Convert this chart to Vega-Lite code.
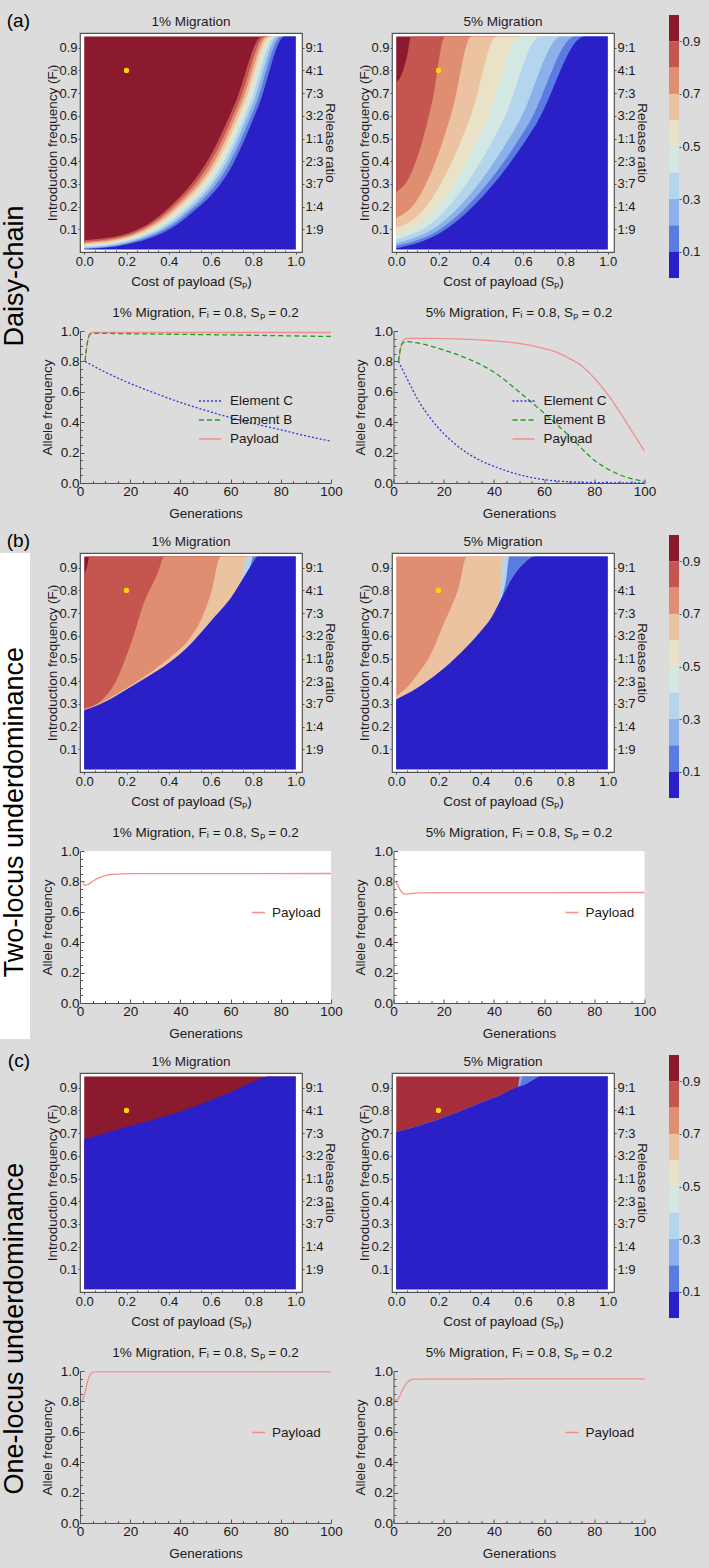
{
"$schema":"https://vega.github.io/schema/vega-lite/v6.json",
"padding":{"left":0,"top":12,"right":24,"bottom":12},
"background":"#dcdcdc",
"config":{"font":"Liberation Sans","view":{"stroke":null},
"axis":{"labelFont":"Liberation Sans","titleFont":"Liberation Sans","labelColor":"#1a1a1a","titleColor":"#1a1a1a","titleFontWeight":"normal","domainColor":"#555","tickColor":"#555","grid":false,"labelFlush":false,"labelOverlap":false},
"title":{"font":"Liberation Sans","fontWeight":"normal","color":"#1a1a1a"},
"legend":{"labelFont":"Liberation Sans"},"text":{"font":"Liberation Sans"}},
"datasets":{
"dot":[{"x":0.2,"y":0.8}],
"bands":[{"t":1,"lo":0.9,"hi":1},{"t":0.9,"lo":0.8,"hi":0.9},{"t":0.8,"lo":0.7,"hi":0.8},{"t":0.7,"lo":0.6,"hi":0.7},{"t":0.6,"lo":0.5,"hi":0.6},{"t":0.5,"lo":0.4,"hi":0.5},{"t":0.4,"lo":0.3,"hi":0.4},{"t":0.3,"lo":0.2,"hi":0.3},{"t":0.2,"lo":0.1,"hi":0.2},{"t":0.1,"lo":0,"hi":0.1}],
"heat":[
{"p":"a1","t":1,"x":0,"y":0.95},{"p":"a1","t":1,"x":1,"y":0.95},
{"p":"a1","t":0.9,"x":0,"y":0.052},{"p":"a1","t":0.9,"x":0.2,"y":0.08},{"p":"a1","t":0.9,"x":0.4,"y":0.195},{"p":"a1","t":0.9,"x":0.6,"y":0.43},{"p":"a1","t":0.9,"x":0.72,"y":0.67},{"p":"a1","t":0.9,"x":0.84,"y":0.95},{"p":"a1","t":0.9,"x":1,"y":0.95},
{"p":"a1","t":0.8,"x":0,"y":0.045},{"p":"a1","t":0.8,"x":0.2,"y":0.073},{"p":"a1","t":0.8,"x":0.41,"y":0.19},{"p":"a1","t":0.8,"x":0.615,"y":0.425},{"p":"a1","t":0.8,"x":0.735,"y":0.668},{"p":"a1","t":0.8,"x":0.855,"y":0.95},{"p":"a1","t":0.8,"x":1,"y":0.95},
{"p":"a1","t":0.7,"x":0,"y":0.039},{"p":"a1","t":0.7,"x":0.2,"y":0.066},{"p":"a1","t":0.7,"x":0.42,"y":0.185},{"p":"a1","t":0.7,"x":0.628,"y":0.42},{"p":"a1","t":0.7,"x":0.748,"y":0.665},{"p":"a1","t":0.7,"x":0.868,"y":0.95},{"p":"a1","t":0.7,"x":1,"y":0.95},
{"p":"a1","t":0.6,"x":0,"y":0.033},{"p":"a1","t":0.6,"x":0.2,"y":0.06},{"p":"a1","t":0.6,"x":0.43,"y":0.18},{"p":"a1","t":0.6,"x":0.64,"y":0.415},{"p":"a1","t":0.6,"x":0.76,"y":0.662},{"p":"a1","t":0.6,"x":0.88,"y":0.95},{"p":"a1","t":0.6,"x":1,"y":0.95},
{"p":"a1","t":0.5,"x":0,"y":0.028},{"p":"a1","t":0.5,"x":0.2,"y":0.054},{"p":"a1","t":0.5,"x":0.44,"y":0.175},{"p":"a1","t":0.5,"x":0.652,"y":0.41},{"p":"a1","t":0.5,"x":0.772,"y":0.66},{"p":"a1","t":0.5,"x":0.893,"y":0.95},{"p":"a1","t":0.5,"x":1,"y":0.95},
{"p":"a1","t":0.4,"x":0,"y":0.023},{"p":"a1","t":0.4,"x":0.2,"y":0.048},{"p":"a1","t":0.4,"x":0.45,"y":0.168},{"p":"a1","t":0.4,"x":0.664,"y":0.405},{"p":"a1","t":0.4,"x":0.785,"y":0.658},{"p":"a1","t":0.4,"x":0.905,"y":0.95},{"p":"a1","t":0.4,"x":1,"y":0.95},
{"p":"a1","t":0.3,"x":0,"y":0.019},{"p":"a1","t":0.3,"x":0.2,"y":0.043},{"p":"a1","t":0.3,"x":0.46,"y":0.162},{"p":"a1","t":0.3,"x":0.676,"y":0.4},{"p":"a1","t":0.3,"x":0.798,"y":0.655},{"p":"a1","t":0.3,"x":0.918,"y":0.95},{"p":"a1","t":0.3,"x":1,"y":0.95},
{"p":"a1","t":0.2,"x":0,"y":0.015},{"p":"a1","t":0.2,"x":0.2,"y":0.038},{"p":"a1","t":0.2,"x":0.47,"y":0.156},{"p":"a1","t":0.2,"x":0.69,"y":0.395},{"p":"a1","t":0.2,"x":0.812,"y":0.652},{"p":"a1","t":0.2,"x":0.932,"y":0.95},{"p":"a1","t":0.2,"x":1,"y":0.95},
{"p":"a1","t":0.1,"x":0,"y":0.0125},{"p":"a1","t":0.1,"x":0.2,"y":0.033},{"p":"a1","t":0.1,"x":0.48,"y":0.15},{"p":"a1","t":0.1,"x":0.705,"y":0.39},{"p":"a1","t":0.1,"x":0.827,"y":0.65},{"p":"a1","t":0.1,"x":0.948,"y":0.95},{"p":"a1","t":0.1,"x":1,"y":0.95},
{"p":"a2","t":1,"x":0,"y":0.95},{"p":"a2","t":1,"x":1,"y":0.95},
{"p":"a2","t":0.9,"x":0,"y":0.75},{"p":"a2","t":0.9,"x":0.0175,"y":0.767},{"p":"a2","t":0.9,"x":0.035,"y":0.807},{"p":"a2","t":0.9,"x":0.0525,"y":0.869},{"p":"a2","t":0.9,"x":0.07,"y":0.95},{"p":"a2","t":0.9,"x":1,"y":0.95},
{"p":"a2","t":0.8,"x":0,"y":0.265},{"p":"a2","t":0.8,"x":0.0575,"y":0.322},{"p":"a2","t":0.8,"x":0.115,"y":0.462},{"p":"a2","t":0.8,"x":0.1725,"y":0.673},{"p":"a2","t":0.8,"x":0.23,"y":0.95},{"p":"a2","t":0.8,"x":1,"y":0.95},
{"p":"a2","t":0.7,"x":0,"y":0.15},{"p":"a2","t":0.7,"x":0.089,"y":0.216},{"p":"a2","t":0.7,"x":0.178,"y":0.38},{"p":"a2","t":0.7,"x":0.266,"y":0.627},{"p":"a2","t":0.7,"x":0.355,"y":0.95},{"p":"a2","t":0.7,"x":1,"y":0.95},
{"p":"a2","t":0.6,"x":0,"y":0.105},{"p":"a2","t":0.6,"x":0.119,"y":0.175},{"p":"a2","t":0.6,"x":0.238,"y":0.348},{"p":"a2","t":0.6,"x":0.356,"y":0.609},{"p":"a2","t":0.6,"x":0.475,"y":0.95},{"p":"a2","t":0.6,"x":1,"y":0.95},
{"p":"a2","t":0.5,"x":0,"y":0.075},{"p":"a2","t":0.5,"x":0.145,"y":0.147},{"p":"a2","t":0.5,"x":0.29,"y":0.326},{"p":"a2","t":0.5,"x":0.435,"y":0.597},{"p":"a2","t":0.5,"x":0.58,"y":0.95},{"p":"a2","t":0.5,"x":1,"y":0.95},
{"p":"a2","t":0.4,"x":0,"y":0.055},{"p":"a2","t":0.4,"x":0.17,"y":0.129},{"p":"a2","t":0.4,"x":0.34,"y":0.312},{"p":"a2","t":0.4,"x":0.51,"y":0.588},{"p":"a2","t":0.4,"x":0.68,"y":0.95},{"p":"a2","t":0.4,"x":1,"y":0.95},
{"p":"a2","t":0.3,"x":0,"y":0.04},{"p":"a2","t":0.3,"x":0.195,"y":0.115},{"p":"a2","t":0.3,"x":0.39,"y":0.301},{"p":"a2","t":0.3,"x":0.585,"y":0.582},{"p":"a2","t":0.3,"x":0.78,"y":0.95},{"p":"a2","t":0.3,"x":1,"y":0.95},
{"p":"a2","t":0.2,"x":0,"y":0.027},{"p":"a2","t":0.2,"x":0.211,"y":0.103},{"p":"a2","t":0.2,"x":0.4225,"y":0.292},{"p":"a2","t":0.2,"x":0.634,"y":0.577},{"p":"a2","t":0.2,"x":0.845,"y":0.95},{"p":"a2","t":0.2,"x":1,"y":0.95},
{"p":"a2","t":0.1,"x":0,"y":0.015},{"p":"a2","t":0.1,"x":0.2225,"y":0.092},{"p":"a2","t":0.1,"x":0.445,"y":0.283},{"p":"a2","t":0.1,"x":0.6675,"y":0.572},{"p":"a2","t":0.1,"x":0.89,"y":0.95},{"p":"a2","t":0.1,"x":1,"y":0.95},
{"p":"b1","t":1,"x":0,"y":0.95},{"p":"b1","t":1,"x":1,"y":0.95},
{"p":"b1","t":0.9,"x":0,"y":0.87},{"p":"b1","t":0.9,"x":0.012,"y":0.9},{"p":"b1","t":0.9,"x":0.025,"y":0.95},{"p":"b1","t":0.9,"x":1,"y":0.95},
{"p":"b1","t":0.8,"x":0,"y":0.28},{"p":"b1","t":0.8,"x":0.05,"y":0.295},{"p":"b1","t":0.8,"x":0.094,"y":0.327},{"p":"b1","t":0.8,"x":0.15,"y":0.4},{"p":"b1","t":0.8,"x":0.195,"y":0.5},{"p":"b1","t":0.8,"x":0.24,"y":0.62},{"p":"b1","t":0.8,"x":0.28,"y":0.74},{"p":"b1","t":0.8,"x":0.345,"y":0.87},{"p":"b1","t":0.8,"x":0.38,"y":0.95},{"p":"b1","t":0.8,"x":1,"y":0.95},
{"p":"b1","t":0.7,"x":0,"y":0.272},{"p":"b1","t":0.7,"x":0.1,"y":0.315},{"p":"b1","t":0.7,"x":0.2,"y":0.37},{"p":"b1","t":0.7,"x":0.3,"y":0.43},{"p":"b1","t":0.7,"x":0.4,"y":0.5},{"p":"b1","t":0.7,"x":0.5,"y":0.59},{"p":"b1","t":0.7,"x":0.55,"y":0.665},{"p":"b1","t":0.7,"x":0.6,"y":0.79},{"p":"b1","t":0.7,"x":0.646,"y":0.95},{"p":"b1","t":0.7,"x":1,"y":0.95},
{"p":"b1","t":0.4,"x":0,"y":0.272},{"p":"b1","t":0.4,"x":0.1,"y":0.31},{"p":"b1","t":0.4,"x":0.2,"y":0.364},{"p":"b1","t":0.4,"x":0.3,"y":0.42},{"p":"b1","t":0.4,"x":0.4,"y":0.48},{"p":"b1","t":0.4,"x":0.5,"y":0.56},{"p":"b1","t":0.4,"x":0.6,"y":0.665},{"p":"b1","t":0.4,"x":0.7,"y":0.775},{"p":"b1","t":0.4,"x":0.74,"y":0.835},{"p":"b1","t":0.4,"x":0.755,"y":0.9},{"p":"b1","t":0.4,"x":0.768,"y":0.95},{"p":"b1","t":0.4,"x":1,"y":0.95},
{"p":"b1","t":0.2,"x":0,"y":0.272},{"p":"b1","t":0.2,"x":0.1,"y":0.31},{"p":"b1","t":0.2,"x":0.2,"y":0.364},{"p":"b1","t":0.2,"x":0.3,"y":0.42},{"p":"b1","t":0.2,"x":0.4,"y":0.48},{"p":"b1","t":0.2,"x":0.5,"y":0.56},{"p":"b1","t":0.2,"x":0.6,"y":0.665},{"p":"b1","t":0.2,"x":0.7,"y":0.775},{"p":"b1","t":0.2,"x":0.75,"y":0.85},{"p":"b1","t":0.2,"x":0.785,"y":0.905},{"p":"b1","t":0.2,"x":0.8,"y":0.95},{"p":"b1","t":0.2,"x":1,"y":0.95},
{"p":"b1","t":0.1,"x":0,"y":0.272},{"p":"b1","t":0.1,"x":0.1,"y":0.31},{"p":"b1","t":0.1,"x":0.2,"y":0.364},{"p":"b1","t":0.1,"x":0.3,"y":0.42},{"p":"b1","t":0.1,"x":0.4,"y":0.48},{"p":"b1","t":0.1,"x":0.5,"y":0.56},{"p":"b1","t":0.1,"x":0.6,"y":0.665},{"p":"b1","t":0.1,"x":0.7,"y":0.775},{"p":"b1","t":0.1,"x":0.75,"y":0.85},{"p":"b1","t":0.1,"x":0.8,"y":0.925},{"p":"b1","t":0.1,"x":0.82,"y":0.95},{"p":"b1","t":0.1,"x":1,"y":0.95},
{"p":"b2","t":0.8,"x":0,"y":0.95},{"p":"b2","t":0.8,"x":1,"y":0.95},
{"p":"b2","t":0.7,"x":0,"y":0.33},{"p":"b2","t":0.7,"x":0.01,"y":0.34},{"p":"b2","t":0.7,"x":0.05,"y":0.372},{"p":"b2","t":0.7,"x":0.1,"y":0.43},{"p":"b2","t":0.7,"x":0.153,"y":0.5},{"p":"b2","t":0.7,"x":0.23,"y":0.665},{"p":"b2","t":0.7,"x":0.295,"y":0.812},{"p":"b2","t":0.7,"x":0.334,"y":0.95},{"p":"b2","t":0.7,"x":1,"y":0.95},
{"p":"b2","t":0.4,"x":0,"y":0.32},{"p":"b2","t":0.4,"x":0.1,"y":0.37},{"p":"b2","t":0.4,"x":0.2,"y":0.437},{"p":"b2","t":0.4,"x":0.3,"y":0.52},{"p":"b2","t":0.4,"x":0.4,"y":0.62},{"p":"b2","t":0.4,"x":0.45,"y":0.68},{"p":"b2","t":0.4,"x":0.48,"y":0.735},{"p":"b2","t":0.4,"x":0.495,"y":0.82},{"p":"b2","t":0.4,"x":0.507,"y":0.95},{"p":"b2","t":0.4,"x":1,"y":0.95},
{"p":"b2","t":0.2,"x":0,"y":0.32},{"p":"b2","t":0.2,"x":0.1,"y":0.37},{"p":"b2","t":0.2,"x":0.2,"y":0.437},{"p":"b2","t":0.2,"x":0.3,"y":0.52},{"p":"b2","t":0.2,"x":0.4,"y":0.62},{"p":"b2","t":0.2,"x":0.45,"y":0.68},{"p":"b2","t":0.2,"x":0.5,"y":0.77},{"p":"b2","t":0.2,"x":0.52,"y":0.85},{"p":"b2","t":0.2,"x":0.535,"y":0.95},{"p":"b2","t":0.2,"x":1,"y":0.95},
{"p":"b2","t":0.1,"x":0,"y":0.32},{"p":"b2","t":0.1,"x":0.1,"y":0.37},{"p":"b2","t":0.1,"x":0.2,"y":0.437},{"p":"b2","t":0.1,"x":0.3,"y":0.52},{"p":"b2","t":0.1,"x":0.4,"y":0.62},{"p":"b2","t":0.1,"x":0.45,"y":0.68},{"p":"b2","t":0.1,"x":0.5,"y":0.77},{"p":"b2","t":0.1,"x":0.55,"y":0.856},{"p":"b2","t":0.1,"x":0.6,"y":0.915},{"p":"b2","t":0.1,"x":0.655,"y":0.95},{"p":"b2","t":0.1,"x":1,"y":0.95},
{"p":"c1","t":1,"x":0,"y":0.95},{"p":"c1","t":1,"x":1,"y":0.95},
{"p":"c1","t":0.1,"x":0,"y":0.674},{"p":"c1","t":0.1,"x":0.1,"y":0.7},{"p":"c1","t":0.1,"x":0.2,"y":0.728},{"p":"c1","t":0.1,"x":0.3,"y":0.752},{"p":"c1","t":0.1,"x":0.4,"y":0.78},{"p":"c1","t":0.1,"x":0.5,"y":0.81},{"p":"c1","t":0.1,"x":0.6,"y":0.846},{"p":"c1","t":0.1,"x":0.7,"y":0.883},{"p":"c1","t":0.1,"x":0.8,"y":0.926},{"p":"c1","t":0.1,"x":0.87,"y":0.95},{"p":"c1","t":0.1,"x":1,"y":0.95},
{"p":"c2","t":0.95,"x":0,"y":0.95},{"p":"c2","t":0.95,"x":1,"y":0.95},
{"p":"c2","t":0.3,"x":0,"y":0.705},{"p":"c2","t":0.3,"x":0.1,"y":0.73},{"p":"c2","t":0.3,"x":0.2,"y":0.76},{"p":"c2","t":0.3,"x":0.3,"y":0.795},{"p":"c2","t":0.3,"x":0.4,"y":0.834},{"p":"c2","t":0.3,"x":0.5,"y":0.87},{"p":"c2","t":0.3,"x":0.575,"y":0.903},{"p":"c2","t":0.3,"x":0.585,"y":0.95},{"p":"c2","t":0.3,"x":1,"y":0.95},
{"p":"c2","t":0.2,"x":0,"y":0.705},{"p":"c2","t":0.2,"x":0.1,"y":0.73},{"p":"c2","t":0.2,"x":0.2,"y":0.76},{"p":"c2","t":0.2,"x":0.3,"y":0.795},{"p":"c2","t":0.2,"x":0.4,"y":0.834},{"p":"c2","t":0.2,"x":0.5,"y":0.87},{"p":"c2","t":0.2,"x":0.575,"y":0.903},{"p":"c2","t":0.2,"x":0.585,"y":0.91},{"p":"c2","t":0.2,"x":0.6,"y":0.95},{"p":"c2","t":0.2,"x":1,"y":0.95},
{"p":"c2","t":0.1,"x":0,"y":0.705},{"p":"c2","t":0.1,"x":0.1,"y":0.73},{"p":"c2","t":0.1,"x":0.2,"y":0.76},{"p":"c2","t":0.1,"x":0.3,"y":0.795},{"p":"c2","t":0.1,"x":0.4,"y":0.834},{"p":"c2","t":0.1,"x":0.5,"y":0.87},{"p":"c2","t":0.1,"x":0.575,"y":0.903},{"p":"c2","t":0.1,"x":0.6,"y":0.91},{"p":"c2","t":0.1,"x":0.64,"y":0.93},{"p":"c2","t":0.1,"x":0.68,"y":0.95},{"p":"c2","t":0.1,"x":1,"y":0.95}
],
"lines":[
{"p":"a1","s":"Payload","g":2,"v":0.8},{"p":"a1","s":"Payload","g":3,"v":0.93},{"p":"a1","s":"Payload","g":4,"v":0.983},{"p":"a1","s":"Payload","g":5,"v":0.99},{"p":"a1","s":"Payload","g":10,"v":0.99},{"p":"a1","s":"Payload","g":100,"v":0.99},
{"p":"a1","s":"Element B","g":2,"v":0.8},{"p":"a1","s":"Element B","g":3,"v":0.93},{"p":"a1","s":"Element B","g":4,"v":0.978},{"p":"a1","s":"Element B","g":5,"v":0.984},{"p":"a1","s":"Element B","g":10,"v":0.984},{"p":"a1","s":"Element B","g":20,"v":0.982},{"p":"a1","s":"Element B","g":40,"v":0.978},{"p":"a1","s":"Element B","g":60,"v":0.974},{"p":"a1","s":"Element B","g":80,"v":0.969},{"p":"a1","s":"Element B","g":100,"v":0.964},
{"p":"a1","s":"Element C","g":2,"v":0.8},{"p":"a1","s":"Element C","g":10,"v":0.73},{"p":"a1","s":"Element C","g":20,"v":0.655},{"p":"a1","s":"Element C","g":30,"v":0.59},{"p":"a1","s":"Element C","g":40,"v":0.53},{"p":"a1","s":"Element C","g":50,"v":0.478},{"p":"a1","s":"Element C","g":60,"v":0.43},{"p":"a1","s":"Element C","g":70,"v":0.388},{"p":"a1","s":"Element C","g":80,"v":0.35},{"p":"a1","s":"Element C","g":90,"v":0.31},{"p":"a1","s":"Element C","g":100,"v":0.275},
{"p":"a2","s":"Payload","g":2,"v":0.8},{"p":"a2","s":"Payload","g":3,"v":0.9},{"p":"a2","s":"Payload","g":4,"v":0.94},{"p":"a2","s":"Payload","g":5,"v":0.95},{"p":"a2","s":"Payload","g":10,"v":0.952},{"p":"a2","s":"Payload","g":20,"v":0.95},{"p":"a2","s":"Payload","g":30,"v":0.945},{"p":"a2","s":"Payload","g":40,"v":0.935},{"p":"a2","s":"Payload","g":50,"v":0.918},{"p":"a2","s":"Payload","g":60,"v":0.885},{"p":"a2","s":"Payload","g":65,"v":0.86},{"p":"a2","s":"Payload","g":70,"v":0.82},{"p":"a2","s":"Payload","g":75,"v":0.77},{"p":"a2","s":"Payload","g":80,"v":0.69},{"p":"a2","s":"Payload","g":85,"v":0.59},{"p":"a2","s":"Payload","g":90,"v":0.47},{"p":"a2","s":"Payload","g":95,"v":0.34},{"p":"a2","s":"Payload","g":100,"v":0.21},
{"p":"a2","s":"Element B","g":2,"v":0.8},{"p":"a2","s":"Element B","g":3,"v":0.9},{"p":"a2","s":"Element B","g":4,"v":0.925},{"p":"a2","s":"Element B","g":5,"v":0.93},{"p":"a2","s":"Element B","g":10,"v":0.92},{"p":"a2","s":"Element B","g":20,"v":0.875},{"p":"a2","s":"Element B","g":30,"v":0.815},{"p":"a2","s":"Element B","g":40,"v":0.73},{"p":"a2","s":"Element B","g":50,"v":0.6},{"p":"a2","s":"Element B","g":60,"v":0.46},{"p":"a2","s":"Element B","g":70,"v":0.31},{"p":"a2","s":"Element B","g":80,"v":0.15},{"p":"a2","s":"Element B","g":90,"v":0.055},{"p":"a2","s":"Element B","g":100,"v":0.01},
{"p":"a2","s":"Element C","g":2,"v":0.8},{"p":"a2","s":"Element C","g":5,"v":0.7},{"p":"a2","s":"Element C","g":10,"v":0.54},{"p":"a2","s":"Element C","g":15,"v":0.42},{"p":"a2","s":"Element C","g":20,"v":0.325},{"p":"a2","s":"Element C","g":25,"v":0.25},{"p":"a2","s":"Element C","g":30,"v":0.19},{"p":"a2","s":"Element C","g":35,"v":0.145},{"p":"a2","s":"Element C","g":40,"v":0.11},{"p":"a2","s":"Element C","g":50,"v":0.055},{"p":"a2","s":"Element C","g":60,"v":0.022},{"p":"a2","s":"Element C","g":70,"v":0.008},{"p":"a2","s":"Element C","g":80,"v":0.003},{"p":"a2","s":"Element C","g":100,"v":0},
{"p":"b1","s":"Payload","g":1,"v":0.8},{"p":"b1","s":"Payload","g":2,"v":0.775},{"p":"b1","s":"Payload","g":3,"v":0.778},{"p":"b1","s":"Payload","g":5,"v":0.8},{"p":"b1","s":"Payload","g":7,"v":0.82},{"p":"b1","s":"Payload","g":10,"v":0.838},{"p":"b1","s":"Payload","g":15,"v":0.848},{"p":"b1","s":"Payload","g":20,"v":0.851},{"p":"b1","s":"Payload","g":100,"v":0.852},
{"p":"b2","s":"Payload","g":0.5,"v":0.805},{"p":"b2","s":"Payload","g":2,"v":0.765},{"p":"b2","s":"Payload","g":3,"v":0.735},{"p":"b2","s":"Payload","g":4,"v":0.72},{"p":"b2","s":"Payload","g":5,"v":0.716},{"p":"b2","s":"Payload","g":7,"v":0.72},{"p":"b2","s":"Payload","g":10,"v":0.724},{"p":"b2","s":"Payload","g":20,"v":0.726},{"p":"b2","s":"Payload","g":100,"v":0.727},
{"p":"c1","s":"Payload","g":1,"v":0.805},{"p":"c1","s":"Payload","g":2,"v":0.86},{"p":"c1","s":"Payload","g":3,"v":0.93},{"p":"c1","s":"Payload","g":4,"v":0.975},{"p":"c1","s":"Payload","g":5,"v":0.99},{"p":"c1","s":"Payload","g":6,"v":0.994},{"p":"c1","s":"Payload","g":100,"v":0.994},
{"p":"c2","s":"Payload","g":0.5,"v":0.805},{"p":"c2","s":"Payload","g":2,"v":0.82},{"p":"c2","s":"Payload","g":3,"v":0.855},{"p":"c2","s":"Payload","g":4,"v":0.89},{"p":"c2","s":"Payload","g":5,"v":0.915},{"p":"c2","s":"Payload","g":6,"v":0.933},{"p":"c2","s":"Payload","g":7,"v":0.943},{"p":"c2","s":"Payload","g":8,"v":0.947},{"p":"c2","s":"Payload","g":100,"v":0.948}
]},
"vconcat":[
{"hconcat":[
 {"width":30,"height":486,"title":{"text":"(a)","fontSize":19,"anchor":"end","offset":2,"color":"#000"},"data":{"values":[{"name":"Daisy-chain"}]},"mark":{"type":"text","angle":270,"fontSize":27,"color":"#000"},"encoding":{"text":{"field":"name","type":"nominal"},"y":{"datum":0.5,"type":"quantitative","scale":{"domain":[0,1]},"axis":null}}},
 {"vconcat":[
  {"hconcat":[
   {"width":222,"height":219,"view":{"stroke":"#555","strokeWidth":1.2,"fill":"#ffffff"},"title":{"text":"1% Migration","fontSize":13.5,"offset":5},
    "layer":[
     {"data":{"name":"heat"},"transform":[{"filter":"datum.p == 'a1'"}],"mark":{"type":"area","interpolate":"monotone"},
      "encoding":{"x":{"field":"x","type":"quantitative","scale":{"domain":[-0.02,1.03],"nice":false,"zero":false},"axis":{"values":[0,0.2,0.4,0.6,0.8,1],"format":".1f","title":"Cost of payload (Sₚ)","domain":false,"tickSize":2,"labelFontSize":13,"titleFontSize":13.5,"labelPadding":1,"titlePadding":6}},
       "y":{"field":"y","type":"quantitative","stack":null,"scale":{"domain":[0,0.965],"nice":false,"zero":false},"axis":{"values":[0.1,0.2,0.3,0.4,0.5,0.6,0.7,0.8,0.9],"format":".1f","title":"Introduction frequency (Fᵢ)","domain":false,"tickSize":2,"labelFontSize":13,"titleFontSize":13.5,"labelPadding":1,"minExtent":18,"maxExtent":18,"titlePadding":2.5}},
       "y2":{"datum":0.0125},
       "color":{"field":"t","type":"ordinal","scale":{"domain":[1,0.95,0.9,0.8,0.7,0.6,0.5,0.4,0.3,0.2,0.1],"range":["#8b1a2e","#a62f3b","#c4554f","#df8e72","#ebc3a1","#e9e2c7","#d3e8e3","#b4d5ee","#8cb0ea","#5a7be2","#2b1fc8"]},"legend":null}}},
     {"data":{"name":"dot"},"mark":{"type":"point","filled":true,"color":"#ffd800","size":28,"opacity":1},
      "encoding":{"x":{"field":"x","type":"quantitative","axis":{"orient":"bottom","values":[0.05,0.1,0.15,0.25,0.3,0.35,0.45,0.5,0.55,0.65,0.7,0.75,0.85,0.9,0.95],"labels":false,"title":null,"domain":false,"tickSize":-2}},"y":{"field":"y","type":"quantitative","axis":{"orient":"right","values":[0.1,0.2,0.3,0.4,0.5,0.6,0.7,0.8,0.9],"labelExpr":"datum.value < 0.15 ? '1:9' : datum.value < 0.25 ? '1:4' : datum.value < 0.35 ? '3:7' : datum.value < 0.45 ? '2:3' : datum.value < 0.55 ? '1:1' : datum.value < 0.65 ? '3:2' : datum.value < 0.75 ? '7:3' : datum.value < 0.85 ? '4:1' : '9:1'","title":"Release ratio","domain":false,"tickSize":2,"labelFontSize":13,"titleFontSize":13.5,"labelPadding":1,"minExtent":18,"maxExtent":18,"titlePadding":2.5}}}}
    ],"resolve":{"axis":{"x":"independent","y":"independent"}}},
   {"hconcat":[
   {"width":222,"height":219,"view":{"stroke":"#555","strokeWidth":1.2,"fill":"#ffffff"},"title":{"text":"5% Migration","fontSize":13.5,"offset":5},
    "layer":[
     {"data":{"name":"heat"},"transform":[{"filter":"datum.p == 'a2'"}],"mark":{"type":"area","interpolate":"monotone"},
      "encoding":{"x":{"field":"x","type":"quantitative","scale":{"domain":[-0.02,1.03],"nice":false,"zero":false},"axis":{"values":[0,0.2,0.4,0.6,0.8,1],"format":".1f","title":"Cost of payload (Sₚ)","domain":false,"tickSize":2,"labelFontSize":13,"titleFontSize":13.5,"labelPadding":1,"titlePadding":6}},
       "y":{"field":"y","type":"quantitative","stack":null,"scale":{"domain":[0,0.965],"nice":false,"zero":false},"axis":{"values":[0.1,0.2,0.3,0.4,0.5,0.6,0.7,0.8,0.9],"format":".1f","title":"Introduction frequency (Fᵢ)","domain":false,"tickSize":2,"labelFontSize":13,"titleFontSize":13.5,"labelPadding":1,"minExtent":18,"maxExtent":18,"titlePadding":2.5}},
       "y2":{"datum":0.0125},
       "color":{"field":"t","type":"ordinal","scale":{"domain":[1,0.95,0.9,0.8,0.7,0.6,0.5,0.4,0.3,0.2,0.1],"range":["#8b1a2e","#a62f3b","#c4554f","#df8e72","#ebc3a1","#e9e2c7","#d3e8e3","#b4d5ee","#8cb0ea","#5a7be2","#2b1fc8"]},"legend":null}}},
     {"data":{"name":"dot"},"mark":{"type":"point","filled":true,"color":"#ffd800","size":28,"opacity":1},
      "encoding":{"x":{"field":"x","type":"quantitative","axis":{"orient":"bottom","values":[0.05,0.1,0.15,0.25,0.3,0.35,0.45,0.5,0.55,0.65,0.7,0.75,0.85,0.9,0.95],"labels":false,"title":null,"domain":false,"tickSize":-2}},"y":{"field":"y","type":"quantitative","axis":{"orient":"right","values":[0.1,0.2,0.3,0.4,0.5,0.6,0.7,0.8,0.9],"labelExpr":"datum.value < 0.15 ? '1:9' : datum.value < 0.25 ? '1:4' : datum.value < 0.35 ? '3:7' : datum.value < 0.45 ? '2:3' : datum.value < 0.55 ? '1:1' : datum.value < 0.65 ? '3:2' : datum.value < 0.75 ? '7:3' : datum.value < 0.85 ? '4:1' : '9:1'","title":"Release ratio","domain":false,"tickSize":2,"labelFontSize":13,"titleFontSize":13.5,"labelPadding":1,"minExtent":18,"maxExtent":18,"titlePadding":2.5}}}}
    ],"resolve":{"axis":{"x":"independent","y":"independent"}}},
   {"width":10,"height":245,"data":{"name":"bands"},"mark":{"type":"rect"},
    "encoding":{"y":{"field":"lo","type":"quantitative","scale":{"domain":[0,0.9316],"nice":false},"axis":{"orient":"right","values":[0.1,0.3,0.5,0.7,0.9],"format":".1f","title":null,"domain":false,"tickSize":2,"labelFontSize":13,"labelPadding":1}},"y2":{"field":"hi"},
     "color":{"field":"t","type":"ordinal","scale":{"domain":[1,0.95,0.9,0.8,0.7,0.6,0.5,0.4,0.3,0.2,0.1],"range":["#8b1a2e","#a62f3b","#c4554f","#df8e72","#ebc3a1","#e9e2c7","#d3e8e3","#b4d5ee","#8cb0ea","#5a7be2","#2b1fc8"]},"legend":null}}}
   ],"spacing":19,"resolve":{"scale":{"color":"independent"}}}
  ],"spacing":18,"resolve":{"scale":{"color":"independent"}}},
  {"hconcat":[
   {"width":251,"height":152,"title":{"text":"1% Migration, Fᵢ = 0.8, Sₚ = 0.2","fontSize":13.5,"offset":4.5},"data":{"name":"lines"},"transform":[{"filter":"datum.p == 'a1'"}],
    "layer":[
     {"mark":{"type":"line","strokeWidth":1.3,"interpolate":"monotone"},
      "encoding":{"x":{"field":"g","type":"quantitative","scale":{"domain":[0,100],"nice":false},"axis":{"values":[0,20,40,60,80,100],"title":"Generations","tickSize":-4,"labelFontSize":13.5,"titleFontSize":13.5,"labelPadding":5,"titlePadding":9}},
       "y":{"field":"v","type":"quantitative","scale":{"domain":[0,1],"nice":false},"axis":{"values":[0,0.2,0.4,0.6,0.8,1],"format":".1f","title":"Allele frequency","tickSize":-4,"labelFontSize":13.5,"titleFontSize":13.5,"labelPadding":5,"minExtent":21,"maxExtent":21,"titlePadding":5}},
       "color":{"field":"s","type":"nominal","scale":{"domain":["Element C","Element B","Payload"],"range":["#3535d8","#1f9f1f","#f28e8e"]},"legend":{"orient":"none","legendX":118,"legendY":58,"title":null,"labelFontSize":13.5,"labelColor":"#1a1a1a","symbolType":"stroke","symbolSize":484,"symbolStrokeWidth":1.5,"rowPadding":0,"labelOffset":8}},
       "strokeDash":{"field":"s","type":"nominal","scale":{"domain":["Element C","Element B","Payload"],"range":[[2,2],[5,3],[1,0]]},"legend":{"orient":"none","legendX":118,"legendY":58,"title":null,"labelFontSize":13.5,"labelColor":"#1a1a1a","symbolType":"stroke","symbolSize":484,"symbolStrokeWidth":1.5,"rowPadding":0,"labelOffset":8}}}},
     {"mark":{"type":"line","opacity":0},
      "encoding":{"x":{"field":"g","type":"quantitative","axis":{"orient":"bottom","values":[5,10,15,25,30,35,45,50,55,65,70,75,85,90,95],"labels":false,"title":null,"domain":false,"tickSize":-2.5}},"y":{"field":"v","type":"quantitative","axis":{"orient":"left","values":[0.05,0.1,0.15,0.25,0.3,0.35,0.45,0.5,0.55,0.65,0.7,0.75,0.85,0.9,0.95],"labels":false,"title":null,"domain":false,"tickSize":-2.5}},"detail":{"field":"s","type":"nominal"}}}
    ],"resolve":{"axis":{"x":"independent","y":"independent"}}},
   {"width":251,"height":152,"title":{"text":"5% Migration, Fᵢ = 0.8, Sₚ = 0.2","fontSize":13.5,"offset":4.5},"data":{"name":"lines"},"transform":[{"filter":"datum.p == 'a2'"}],
    "layer":[
     {"mark":{"type":"line","strokeWidth":1.3,"interpolate":"monotone"},
      "encoding":{"x":{"field":"g","type":"quantitative","scale":{"domain":[0,100],"nice":false},"axis":{"values":[0,20,40,60,80,100],"title":"Generations","tickSize":-4,"labelFontSize":13.5,"titleFontSize":13.5,"labelPadding":5,"titlePadding":9}},
       "y":{"field":"v","type":"quantitative","scale":{"domain":[0,1],"nice":false},"axis":{"values":[0,0.2,0.4,0.6,0.8,1],"format":".1f","title":"Allele frequency","tickSize":-4,"labelFontSize":13.5,"titleFontSize":13.5,"labelPadding":5,"minExtent":21,"maxExtent":21,"titlePadding":5}},
       "color":{"field":"s","type":"nominal","scale":{"domain":["Element C","Element B","Payload"],"range":["#3535d8","#1f9f1f","#f28e8e"]},"legend":{"orient":"none","legendX":118,"legendY":58,"title":null,"labelFontSize":13.5,"labelColor":"#1a1a1a","symbolType":"stroke","symbolSize":484,"symbolStrokeWidth":1.5,"rowPadding":0,"labelOffset":8}},
       "strokeDash":{"field":"s","type":"nominal","scale":{"domain":["Element C","Element B","Payload"],"range":[[2,2],[5,3],[1,0]]},"legend":{"orient":"none","legendX":118,"legendY":58,"title":null,"labelFontSize":13.5,"labelColor":"#1a1a1a","symbolType":"stroke","symbolSize":484,"symbolStrokeWidth":1.5,"rowPadding":0,"labelOffset":8}}}},
     {"mark":{"type":"line","opacity":0},
      "encoding":{"x":{"field":"g","type":"quantitative","axis":{"orient":"bottom","values":[5,10,15,25,30,35,45,50,55,65,70,75,85,90,95],"labels":false,"title":null,"domain":false,"tickSize":-2.5}},"y":{"field":"v","type":"quantitative","axis":{"orient":"left","values":[0.05,0.1,0.15,0.25,0.3,0.35,0.45,0.5,0.55,0.65,0.7,0.75,0.85,0.9,0.95],"labels":false,"title":null,"domain":false,"tickSize":-2.5}},"detail":{"field":"s","type":"nominal"}}}
    ],"resolve":{"axis":{"x":"independent","y":"independent"}}}
  ],"spacing":10.5,"resolve":{"scale":{"color":"independent","strokeDash":"independent"}}}
 ],"spacing":17,"resolve":{"scale":{"color":"independent","strokeDash":"independent"}}}
],"spacing":10,"resolve":{"scale":{"color":"independent","strokeDash":"independent"}}},
{"hconcat":[
 {"width":30,"height":486,"view":{"fill":"#ffffff"},"title":{"text":"(b)","fontSize":19,"anchor":"end","offset":2,"color":"#000"},"data":{"values":[{"name":"Two-locus underdominance"}]},"mark":{"type":"text","angle":270,"fontSize":27,"color":"#000"},"encoding":{"text":{"field":"name","type":"nominal"},"y":{"datum":0.467,"type":"quantitative","scale":{"domain":[0,1]},"axis":null}}},
 {"vconcat":[
  {"hconcat":[
   {"width":222,"height":219,"view":{"stroke":"#555","strokeWidth":1.2,"fill":"#ffffff"},"title":{"text":"1% Migration","fontSize":13.5,"offset":5},
    "layer":[
     {"data":{"name":"heat"},"transform":[{"filter":"datum.p == 'b1'"}],"mark":{"type":"area","interpolate":"monotone"},
      "encoding":{"x":{"field":"x","type":"quantitative","scale":{"domain":[-0.02,1.03],"nice":false,"zero":false},"axis":{"values":[0,0.2,0.4,0.6,0.8,1],"format":".1f","title":"Cost of payload (Sₚ)","domain":false,"tickSize":2,"labelFontSize":13,"titleFontSize":13.5,"labelPadding":1,"titlePadding":6}},
       "y":{"field":"y","type":"quantitative","stack":null,"scale":{"domain":[0,0.965],"nice":false,"zero":false},"axis":{"values":[0.1,0.2,0.3,0.4,0.5,0.6,0.7,0.8,0.9],"format":".1f","title":"Introduction frequency (Fᵢ)","domain":false,"tickSize":2,"labelFontSize":13,"titleFontSize":13.5,"labelPadding":1,"minExtent":18,"maxExtent":18,"titlePadding":2.5}},
       "y2":{"datum":0.0125},
       "color":{"field":"t","type":"ordinal","scale":{"domain":[1,0.95,0.9,0.8,0.7,0.6,0.5,0.4,0.3,0.2,0.1],"range":["#8b1a2e","#a62f3b","#c4554f","#df8e72","#ebc3a1","#e9e2c7","#d3e8e3","#b4d5ee","#8cb0ea","#5a7be2","#2b1fc8"]},"legend":null}}},
     {"data":{"name":"dot"},"mark":{"type":"point","filled":true,"color":"#ffd800","size":28,"opacity":1},
      "encoding":{"x":{"field":"x","type":"quantitative","axis":{"orient":"bottom","values":[0.05,0.1,0.15,0.25,0.3,0.35,0.45,0.5,0.55,0.65,0.7,0.75,0.85,0.9,0.95],"labels":false,"title":null,"domain":false,"tickSize":-2}},"y":{"field":"y","type":"quantitative","axis":{"orient":"right","values":[0.1,0.2,0.3,0.4,0.5,0.6,0.7,0.8,0.9],"labelExpr":"datum.value < 0.15 ? '1:9' : datum.value < 0.25 ? '1:4' : datum.value < 0.35 ? '3:7' : datum.value < 0.45 ? '2:3' : datum.value < 0.55 ? '1:1' : datum.value < 0.65 ? '3:2' : datum.value < 0.75 ? '7:3' : datum.value < 0.85 ? '4:1' : '9:1'","title":"Release ratio","domain":false,"tickSize":2,"labelFontSize":13,"titleFontSize":13.5,"labelPadding":1,"minExtent":18,"maxExtent":18,"titlePadding":2.5}}}}
    ],"resolve":{"axis":{"x":"independent","y":"independent"}}},
   {"hconcat":[
   {"width":222,"height":219,"view":{"stroke":"#555","strokeWidth":1.2,"fill":"#ffffff"},"title":{"text":"5% Migration","fontSize":13.5,"offset":5},
    "layer":[
     {"data":{"name":"heat"},"transform":[{"filter":"datum.p == 'b2'"}],"mark":{"type":"area","interpolate":"monotone"},
      "encoding":{"x":{"field":"x","type":"quantitative","scale":{"domain":[-0.02,1.03],"nice":false,"zero":false},"axis":{"values":[0,0.2,0.4,0.6,0.8,1],"format":".1f","title":"Cost of payload (Sₚ)","domain":false,"tickSize":2,"labelFontSize":13,"titleFontSize":13.5,"labelPadding":1,"titlePadding":6}},
       "y":{"field":"y","type":"quantitative","stack":null,"scale":{"domain":[0,0.965],"nice":false,"zero":false},"axis":{"values":[0.1,0.2,0.3,0.4,0.5,0.6,0.7,0.8,0.9],"format":".1f","title":"Introduction frequency (Fᵢ)","domain":false,"tickSize":2,"labelFontSize":13,"titleFontSize":13.5,"labelPadding":1,"minExtent":18,"maxExtent":18,"titlePadding":2.5}},
       "y2":{"datum":0.0125},
       "color":{"field":"t","type":"ordinal","scale":{"domain":[1,0.95,0.9,0.8,0.7,0.6,0.5,0.4,0.3,0.2,0.1],"range":["#8b1a2e","#a62f3b","#c4554f","#df8e72","#ebc3a1","#e9e2c7","#d3e8e3","#b4d5ee","#8cb0ea","#5a7be2","#2b1fc8"]},"legend":null}}},
     {"data":{"name":"dot"},"mark":{"type":"point","filled":true,"color":"#ffd800","size":28,"opacity":1},
      "encoding":{"x":{"field":"x","type":"quantitative","axis":{"orient":"bottom","values":[0.05,0.1,0.15,0.25,0.3,0.35,0.45,0.5,0.55,0.65,0.7,0.75,0.85,0.9,0.95],"labels":false,"title":null,"domain":false,"tickSize":-2}},"y":{"field":"y","type":"quantitative","axis":{"orient":"right","values":[0.1,0.2,0.3,0.4,0.5,0.6,0.7,0.8,0.9],"labelExpr":"datum.value < 0.15 ? '1:9' : datum.value < 0.25 ? '1:4' : datum.value < 0.35 ? '3:7' : datum.value < 0.45 ? '2:3' : datum.value < 0.55 ? '1:1' : datum.value < 0.65 ? '3:2' : datum.value < 0.75 ? '7:3' : datum.value < 0.85 ? '4:1' : '9:1'","title":"Release ratio","domain":false,"tickSize":2,"labelFontSize":13,"titleFontSize":13.5,"labelPadding":1,"minExtent":18,"maxExtent":18,"titlePadding":2.5}}}}
    ],"resolve":{"axis":{"x":"independent","y":"independent"}}},
   {"width":10,"height":245,"data":{"name":"bands"},"mark":{"type":"rect"},
    "encoding":{"y":{"field":"lo","type":"quantitative","scale":{"domain":[0,0.9316],"nice":false},"axis":{"orient":"right","values":[0.1,0.3,0.5,0.7,0.9],"format":".1f","title":null,"domain":false,"tickSize":2,"labelFontSize":13,"labelPadding":1}},"y2":{"field":"hi"},
     "color":{"field":"t","type":"ordinal","scale":{"domain":[1,0.95,0.9,0.8,0.7,0.6,0.5,0.4,0.3,0.2,0.1],"range":["#8b1a2e","#a62f3b","#c4554f","#df8e72","#ebc3a1","#e9e2c7","#d3e8e3","#b4d5ee","#8cb0ea","#5a7be2","#2b1fc8"]},"legend":null}}}
   ],"spacing":19,"resolve":{"scale":{"color":"independent"}}}
  ],"spacing":18,"resolve":{"scale":{"color":"independent"}}},
  {"hconcat":[
   {"width":251,"height":152,"view":{"fill":"#ffffff"},"title":{"text":"1% Migration, Fᵢ = 0.8, Sₚ = 0.2","fontSize":13.5,"offset":4.5},"data":{"name":"lines"},"transform":[{"filter":"datum.p == 'b1'"}],
    "layer":[
     {"mark":{"type":"line","strokeWidth":1.3,"interpolate":"monotone"},
      "encoding":{"x":{"field":"g","type":"quantitative","scale":{"domain":[0,100],"nice":false},"axis":{"values":[0,20,40,60,80,100],"title":"Generations","tickSize":-4,"labelFontSize":13.5,"titleFontSize":13.5,"labelPadding":5,"titlePadding":9}},
       "y":{"field":"v","type":"quantitative","scale":{"domain":[0,1],"nice":false},"axis":{"values":[0,0.2,0.4,0.6,0.8,1],"format":".1f","title":"Allele frequency","tickSize":-4,"labelFontSize":13.5,"titleFontSize":13.5,"labelPadding":5,"minExtent":21,"maxExtent":21,"titlePadding":5}},
       "color":{"field":"s","type":"nominal","scale":{"domain":["Payload"],"range":["#f28e8e"]},"legend":{"orient":"none","legendX":171,"legendY":54,"title":null,"labelFontSize":13.5,"labelColor":"#1a1a1a","symbolType":"stroke","symbolSize":169,"symbolStrokeWidth":1.5,"labelOffset":6}}}},
     {"mark":{"type":"line","opacity":0},
      "encoding":{"x":{"field":"g","type":"quantitative","axis":{"orient":"bottom","values":[5,10,15,25,30,35,45,50,55,65,70,75,85,90,95],"labels":false,"title":null,"domain":false,"tickSize":-2.5}},"y":{"field":"v","type":"quantitative","axis":{"orient":"left","values":[0.05,0.1,0.15,0.25,0.3,0.35,0.45,0.5,0.55,0.65,0.7,0.75,0.85,0.9,0.95],"labels":false,"title":null,"domain":false,"tickSize":-2.5}}}}
    ],"resolve":{"axis":{"x":"independent","y":"independent"}}},
   {"width":251,"height":152,"view":{"fill":"#ffffff"},"title":{"text":"5% Migration, Fᵢ = 0.8, Sₚ = 0.2","fontSize":13.5,"offset":4.5},"data":{"name":"lines"},"transform":[{"filter":"datum.p == 'b2'"}],
    "layer":[
     {"mark":{"type":"line","strokeWidth":1.3,"interpolate":"monotone"},
      "encoding":{"x":{"field":"g","type":"quantitative","scale":{"domain":[0,100],"nice":false},"axis":{"values":[0,20,40,60,80,100],"title":"Generations","tickSize":-4,"labelFontSize":13.5,"titleFontSize":13.5,"labelPadding":5,"titlePadding":9}},
       "y":{"field":"v","type":"quantitative","scale":{"domain":[0,1],"nice":false},"axis":{"values":[0,0.2,0.4,0.6,0.8,1],"format":".1f","title":"Allele frequency","tickSize":-4,"labelFontSize":13.5,"titleFontSize":13.5,"labelPadding":5,"minExtent":21,"maxExtent":21,"titlePadding":5}},
       "color":{"field":"s","type":"nominal","scale":{"domain":["Payload"],"range":["#f28e8e"]},"legend":{"orient":"none","legendX":171,"legendY":54,"title":null,"labelFontSize":13.5,"labelColor":"#1a1a1a","symbolType":"stroke","symbolSize":169,"symbolStrokeWidth":1.5,"labelOffset":6}}}},
     {"mark":{"type":"line","opacity":0},
      "encoding":{"x":{"field":"g","type":"quantitative","axis":{"orient":"bottom","values":[5,10,15,25,30,35,45,50,55,65,70,75,85,90,95],"labels":false,"title":null,"domain":false,"tickSize":-2.5}},"y":{"field":"v","type":"quantitative","axis":{"orient":"left","values":[0.05,0.1,0.15,0.25,0.3,0.35,0.45,0.5,0.55,0.65,0.7,0.75,0.85,0.9,0.95],"labels":false,"title":null,"domain":false,"tickSize":-2.5}}}}
    ],"resolve":{"axis":{"x":"independent","y":"independent"}}}
  ],"spacing":10.5,"resolve":{"scale":{"color":"independent"}}}
 ],"spacing":17,"resolve":{"scale":{"color":"independent","strokeDash":"independent"}}}
],"spacing":10,"resolve":{"scale":{"color":"independent","strokeDash":"independent"}}},
{"hconcat":[
 {"width":30,"height":486,"title":{"text":"(c)","fontSize":19,"anchor":"end","offset":2,"color":"#000"},"data":{"values":[{"name":"One-locus underdominance"}]},"mark":{"type":"text","angle":270,"fontSize":27,"color":"#000"},"encoding":{"text":{"field":"name","type":"nominal"},"y":{"datum":0.474,"type":"quantitative","scale":{"domain":[0,1]},"axis":null}}},
 {"vconcat":[
  {"hconcat":[
   {"width":222,"height":219,"view":{"stroke":"#555","strokeWidth":1.2,"fill":"#ffffff"},"title":{"text":"1% Migration","fontSize":13.5,"offset":5},
    "layer":[
     {"data":{"name":"heat"},"transform":[{"filter":"datum.p == 'c1'"}],"mark":{"type":"area","interpolate":"monotone"},
      "encoding":{"x":{"field":"x","type":"quantitative","scale":{"domain":[-0.02,1.03],"nice":false,"zero":false},"axis":{"values":[0,0.2,0.4,0.6,0.8,1],"format":".1f","title":"Cost of payload (Sₚ)","domain":false,"tickSize":2,"labelFontSize":13,"titleFontSize":13.5,"labelPadding":1,"titlePadding":6}},
       "y":{"field":"y","type":"quantitative","stack":null,"scale":{"domain":[0,0.965],"nice":false,"zero":false},"axis":{"values":[0.1,0.2,0.3,0.4,0.5,0.6,0.7,0.8,0.9],"format":".1f","title":"Introduction frequency (Fᵢ)","domain":false,"tickSize":2,"labelFontSize":13,"titleFontSize":13.5,"labelPadding":1,"minExtent":18,"maxExtent":18,"titlePadding":2.5}},
       "y2":{"datum":0.0125},
       "color":{"field":"t","type":"ordinal","scale":{"domain":[1,0.95,0.9,0.8,0.7,0.6,0.5,0.4,0.3,0.2,0.1],"range":["#8b1a2e","#a62f3b","#c4554f","#df8e72","#ebc3a1","#e9e2c7","#d3e8e3","#b4d5ee","#8cb0ea","#5a7be2","#2b1fc8"]},"legend":null}}},
     {"data":{"name":"dot"},"mark":{"type":"point","filled":true,"color":"#ffd800","size":28,"opacity":1},
      "encoding":{"x":{"field":"x","type":"quantitative","axis":{"orient":"bottom","values":[0.05,0.1,0.15,0.25,0.3,0.35,0.45,0.5,0.55,0.65,0.7,0.75,0.85,0.9,0.95],"labels":false,"title":null,"domain":false,"tickSize":-2}},"y":{"field":"y","type":"quantitative","axis":{"orient":"right","values":[0.1,0.2,0.3,0.4,0.5,0.6,0.7,0.8,0.9],"labelExpr":"datum.value < 0.15 ? '1:9' : datum.value < 0.25 ? '1:4' : datum.value < 0.35 ? '3:7' : datum.value < 0.45 ? '2:3' : datum.value < 0.55 ? '1:1' : datum.value < 0.65 ? '3:2' : datum.value < 0.75 ? '7:3' : datum.value < 0.85 ? '4:1' : '9:1'","title":"Release ratio","domain":false,"tickSize":2,"labelFontSize":13,"titleFontSize":13.5,"labelPadding":1,"minExtent":18,"maxExtent":18,"titlePadding":2.5}}}}
    ],"resolve":{"axis":{"x":"independent","y":"independent"}}},
   {"hconcat":[
   {"width":222,"height":219,"view":{"stroke":"#555","strokeWidth":1.2,"fill":"#ffffff"},"title":{"text":"5% Migration","fontSize":13.5,"offset":5},
    "layer":[
     {"data":{"name":"heat"},"transform":[{"filter":"datum.p == 'c2'"}],"mark":{"type":"area","interpolate":"monotone"},
      "encoding":{"x":{"field":"x","type":"quantitative","scale":{"domain":[-0.02,1.03],"nice":false,"zero":false},"axis":{"values":[0,0.2,0.4,0.6,0.8,1],"format":".1f","title":"Cost of payload (Sₚ)","domain":false,"tickSize":2,"labelFontSize":13,"titleFontSize":13.5,"labelPadding":1,"titlePadding":6}},
       "y":{"field":"y","type":"quantitative","stack":null,"scale":{"domain":[0,0.965],"nice":false,"zero":false},"axis":{"values":[0.1,0.2,0.3,0.4,0.5,0.6,0.7,0.8,0.9],"format":".1f","title":"Introduction frequency (Fᵢ)","domain":false,"tickSize":2,"labelFontSize":13,"titleFontSize":13.5,"labelPadding":1,"minExtent":18,"maxExtent":18,"titlePadding":2.5}},
       "y2":{"datum":0.0125},
       "color":{"field":"t","type":"ordinal","scale":{"domain":[1,0.95,0.9,0.8,0.7,0.6,0.5,0.4,0.3,0.2,0.1],"range":["#8b1a2e","#a62f3b","#c4554f","#df8e72","#ebc3a1","#e9e2c7","#d3e8e3","#b4d5ee","#8cb0ea","#5a7be2","#2b1fc8"]},"legend":null}}},
     {"data":{"name":"dot"},"mark":{"type":"point","filled":true,"color":"#ffd800","size":28,"opacity":1},
      "encoding":{"x":{"field":"x","type":"quantitative","axis":{"orient":"bottom","values":[0.05,0.1,0.15,0.25,0.3,0.35,0.45,0.5,0.55,0.65,0.7,0.75,0.85,0.9,0.95],"labels":false,"title":null,"domain":false,"tickSize":-2}},"y":{"field":"y","type":"quantitative","axis":{"orient":"right","values":[0.1,0.2,0.3,0.4,0.5,0.6,0.7,0.8,0.9],"labelExpr":"datum.value < 0.15 ? '1:9' : datum.value < 0.25 ? '1:4' : datum.value < 0.35 ? '3:7' : datum.value < 0.45 ? '2:3' : datum.value < 0.55 ? '1:1' : datum.value < 0.65 ? '3:2' : datum.value < 0.75 ? '7:3' : datum.value < 0.85 ? '4:1' : '9:1'","title":"Release ratio","domain":false,"tickSize":2,"labelFontSize":13,"titleFontSize":13.5,"labelPadding":1,"minExtent":18,"maxExtent":18,"titlePadding":2.5}}}}
    ],"resolve":{"axis":{"x":"independent","y":"independent"}}},
   {"width":10,"height":245,"data":{"name":"bands"},"mark":{"type":"rect"},
    "encoding":{"y":{"field":"lo","type":"quantitative","scale":{"domain":[0,0.9316],"nice":false},"axis":{"orient":"right","values":[0.1,0.3,0.5,0.7,0.9],"format":".1f","title":null,"domain":false,"tickSize":2,"labelFontSize":13,"labelPadding":1}},"y2":{"field":"hi"},
     "color":{"field":"t","type":"ordinal","scale":{"domain":[1,0.95,0.9,0.8,0.7,0.6,0.5,0.4,0.3,0.2,0.1],"range":["#8b1a2e","#a62f3b","#c4554f","#df8e72","#ebc3a1","#e9e2c7","#d3e8e3","#b4d5ee","#8cb0ea","#5a7be2","#2b1fc8"]},"legend":null}}}
   ],"spacing":19,"resolve":{"scale":{"color":"independent"}}}
  ],"spacing":18,"resolve":{"scale":{"color":"independent"}}},
  {"hconcat":[
   {"width":251,"height":152,"title":{"text":"1% Migration, Fᵢ = 0.8, Sₚ = 0.2","fontSize":13.5,"offset":4.5},"data":{"name":"lines"},"transform":[{"filter":"datum.p == 'c1'"}],
    "layer":[
     {"mark":{"type":"line","strokeWidth":1.3,"interpolate":"monotone"},
      "encoding":{"x":{"field":"g","type":"quantitative","scale":{"domain":[0,100],"nice":false},"axis":{"values":[0,20,40,60,80,100],"title":"Generations","tickSize":-4,"labelFontSize":13.5,"titleFontSize":13.5,"labelPadding":5,"titlePadding":9}},
       "y":{"field":"v","type":"quantitative","scale":{"domain":[0,1],"nice":false},"axis":{"values":[0,0.2,0.4,0.6,0.8,1],"format":".1f","title":"Allele frequency","tickSize":-4,"labelFontSize":13.5,"titleFontSize":13.5,"labelPadding":5,"minExtent":21,"maxExtent":21,"titlePadding":5}},
       "color":{"field":"s","type":"nominal","scale":{"domain":["Payload"],"range":["#f28e8e"]},"legend":{"orient":"none","legendX":171,"legendY":54,"title":null,"labelFontSize":13.5,"labelColor":"#1a1a1a","symbolType":"stroke","symbolSize":169,"symbolStrokeWidth":1.5,"labelOffset":6}}}},
     {"mark":{"type":"line","opacity":0},
      "encoding":{"x":{"field":"g","type":"quantitative","axis":{"orient":"bottom","values":[5,10,15,25,30,35,45,50,55,65,70,75,85,90,95],"labels":false,"title":null,"domain":false,"tickSize":-2.5}},"y":{"field":"v","type":"quantitative","axis":{"orient":"left","values":[0.05,0.1,0.15,0.25,0.3,0.35,0.45,0.5,0.55,0.65,0.7,0.75,0.85,0.9,0.95],"labels":false,"title":null,"domain":false,"tickSize":-2.5}}}}
    ],"resolve":{"axis":{"x":"independent","y":"independent"}}},
   {"width":251,"height":152,"title":{"text":"5% Migration, Fᵢ = 0.8, Sₚ = 0.2","fontSize":13.5,"offset":4.5},"data":{"name":"lines"},"transform":[{"filter":"datum.p == 'c2'"}],
    "layer":[
     {"mark":{"type":"line","strokeWidth":1.3,"interpolate":"monotone"},
      "encoding":{"x":{"field":"g","type":"quantitative","scale":{"domain":[0,100],"nice":false},"axis":{"values":[0,20,40,60,80,100],"title":"Generations","tickSize":-4,"labelFontSize":13.5,"titleFontSize":13.5,"labelPadding":5,"titlePadding":9}},
       "y":{"field":"v","type":"quantitative","scale":{"domain":[0,1],"nice":false},"axis":{"values":[0,0.2,0.4,0.6,0.8,1],"format":".1f","title":"Allele frequency","tickSize":-4,"labelFontSize":13.5,"titleFontSize":13.5,"labelPadding":5,"minExtent":21,"maxExtent":21,"titlePadding":5}},
       "color":{"field":"s","type":"nominal","scale":{"domain":["Payload"],"range":["#f28e8e"]},"legend":{"orient":"none","legendX":171,"legendY":54,"title":null,"labelFontSize":13.5,"labelColor":"#1a1a1a","symbolType":"stroke","symbolSize":169,"symbolStrokeWidth":1.5,"labelOffset":6}}}},
     {"mark":{"type":"line","opacity":0},
      "encoding":{"x":{"field":"g","type":"quantitative","axis":{"orient":"bottom","values":[5,10,15,25,30,35,45,50,55,65,70,75,85,90,95],"labels":false,"title":null,"domain":false,"tickSize":-2.5}},"y":{"field":"v","type":"quantitative","axis":{"orient":"left","values":[0.05,0.1,0.15,0.25,0.3,0.35,0.45,0.5,0.55,0.65,0.7,0.75,0.85,0.9,0.95],"labels":false,"title":null,"domain":false,"tickSize":-2.5}}}}
    ],"resolve":{"axis":{"x":"independent","y":"independent"}}}
  ],"spacing":10.5,"resolve":{"scale":{"color":"independent"}}}
 ],"spacing":17,"resolve":{"scale":{"color":"independent","strokeDash":"independent"}}}
],"spacing":10,"resolve":{"scale":{"color":"independent","strokeDash":"independent"}}}
],
"spacing":12,
"resolve":{"scale":{"color":"independent","strokeDash":"independent"}}
}
